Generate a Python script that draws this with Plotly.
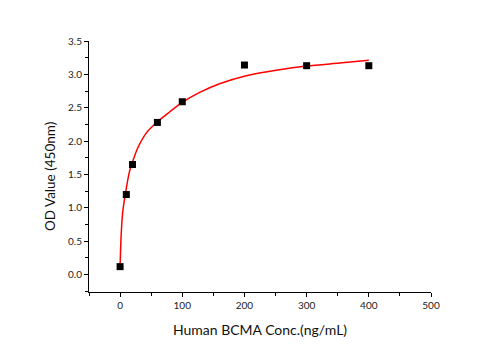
import plotly.graph_objects as go

# Measured points
conc = [0, 10, 20, 60, 100, 200, 300, 400]
od = [0.12, 1.20, 1.65, 2.28, 2.59, 3.14, 3.13, 3.13]

# Fitted curve
fit_x = [0, 1.6, 4, 8.5, 15, 19, 28, 42, 60, 80, 100, 128, 160, 203, 256, 300, 353, 400]
fit_y = [0.12, 0.57, 0.92, 1.21, 1.54, 1.66, 1.89, 2.12, 2.29, 2.44, 2.58, 2.73, 2.86, 2.98, 3.07, 3.125, 3.17, 3.21]

x_ticks = [0, 100, 200, 300, 400, 500]
y_ticks = [0.0, 0.5, 1.0, 1.5, 2.0, 2.5, 3.0, 3.5]

font_family = "Lato, 'Open Sans', sans-serif"

fig = go.Figure()
fig.add_trace(go.Scatter(x=fit_x, y=fit_y, mode="lines",
                         line=dict(color="#ff0000", width=1.5, shape="spline", smoothing=0.8),
                         showlegend=False, hoverinfo="skip"))
fig.add_trace(go.Scatter(x=conc, y=od, mode="markers",
                         marker=dict(symbol="square", size=7, color="black"),
                         showlegend=False, cliponaxis=False))

axis_common = dict(showgrid=False, zeroline=False, showline=True, linecolor="black",
                   linewidth=1, ticks="outside", ticklen=4, tickwidth=1, tickcolor="black",
                   tickfont=dict(family=font_family, size=10, color="#222"),
                   mirror=False)

fig.update_xaxes(range=[-50, 500], tickvals=x_ticks, ticktext=[str(v) for v in x_ticks],
                 minor=dict(ticks="outside", ticklen=3, dtick=50, tick0=0, tickcolor="black"),
                 title=dict(text="Human BCMA Conc.(ng/mL)", standoff=15,
                            font=dict(family=font_family, size=14, color="#111")),
                 **axis_common)
fig.update_yaxes(range=[-0.26, 3.5], tickvals=y_ticks, ticktext=[f"{v:.1f}" for v in y_ticks],
                 minor=dict(ticks="outside", ticklen=3, dtick=0.25, tick0=0, tickcolor="black"),
                 **axis_common)

fig.add_annotation(text="OD Value (450nm)", xref="paper", yref="paper",
                   x=-0.114, y=0.458, xanchor="center", yanchor="middle",
                   textangle=-90, showarrow=False,
                   font=dict(family=font_family, size=13.5, color="#111"))

fig.update_layout(width=501, height=350, margin=dict(l=89, r=70, t=41, b=58),
                  plot_bgcolor="white", paper_bgcolor="white")

fig.write_html("out.html")
